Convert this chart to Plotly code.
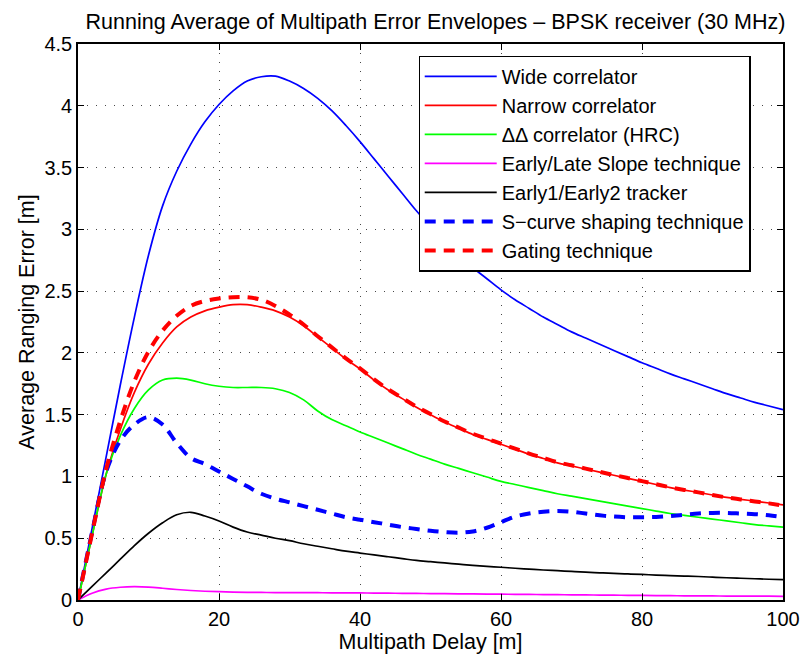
import plotly.graph_objects as go

# Multipath delay grid [m], 2 m steps
delay = list(range(0, 101, 2))

wide = [0, 0.58, 1.16, 1.74, 2.29, 2.79, 3.19, 3.47, 3.69, 3.87,
        4.01, 4.12, 4.20, 4.235, 4.24, 4.20, 4.14, 4.06, 3.96, 3.84,
        3.71, 3.57, 3.43, 3.29, 3.15, 3.02, 2.90, 2.79, 2.69, 2.60,
        2.51, 2.43, 2.36, 2.29, 2.23, 2.17, 2.12, 2.07, 2.02, 1.97,
        1.92, 1.875, 1.83, 1.79, 1.75, 1.71, 1.67, 1.635, 1.60, 1.57, 1.54]

narrow = [0, 0.52, 1.02, 1.38, 1.68, 1.91, 2.08, 2.21, 2.29, 2.34,
          2.37, 2.39, 2.39, 2.37, 2.34, 2.29, 2.22, 2.13, 2.04, 1.95,
          1.87, 1.78, 1.70, 1.63, 1.56, 1.50, 1.44, 1.39, 1.34, 1.30,
          1.26, 1.22, 1.18, 1.145, 1.11, 1.085, 1.06, 1.035, 1.01, 0.985,
          0.96, 0.935, 0.91, 0.89, 0.87, 0.85, 0.83, 0.815, 0.80, 0.785, 0.77]

hrc = [0, 0.52, 1.02, 1.33, 1.55, 1.70, 1.78, 1.795, 1.78, 1.75,
       1.73, 1.72, 1.72, 1.72, 1.71, 1.68, 1.62, 1.53, 1.46, 1.41,
       1.36, 1.315, 1.27, 1.225, 1.18, 1.14, 1.10, 1.065, 1.03, 0.995,
       0.96, 0.935, 0.91, 0.885, 0.86, 0.84, 0.82, 0.80, 0.78, 0.76,
       0.74, 0.72, 0.70, 0.685, 0.67, 0.655, 0.64, 0.625, 0.61, 0.60, 0.59]

els = [0, 0.055, 0.088, 0.103, 0.108, 0.104, 0.095, 0.085, 0.077, 0.071,
       0.067, 0.064, 0.062, 0.061, 0.06, 0.06, 0.06, 0.059, 0.058, 0.058,
       0.057, 0.056, 0.055, 0.054, 0.053, 0.052, 0.051, 0.05, 0.049, 0.048,
       0.047, 0.046, 0.045, 0.044, 0.043, 0.042, 0.041, 0.040, 0.039, 0.038,
       0.037, 0.036, 0.035, 0.034, 0.033, 0.033, 0.032, 0.032, 0.031, 0.031, 0.03]

e1e2 = [0, 0.11, 0.22, 0.33, 0.44, 0.54, 0.625, 0.69, 0.71, 0.68,
        0.64, 0.59, 0.55, 0.525, 0.50, 0.48, 0.455, 0.435, 0.415, 0.395,
        0.38, 0.365, 0.35, 0.335, 0.32, 0.31, 0.30, 0.29, 0.28, 0.272,
        0.265, 0.257, 0.25, 0.243, 0.237, 0.231, 0.225, 0.22, 0.215, 0.211,
        0.207, 0.202, 0.198, 0.194, 0.19, 0.185, 0.18, 0.176, 0.172, 0.168, 0.165]

scurve = [0, 0.55, 1.04, 1.29, 1.42, 1.48, 1.42, 1.27, 1.15, 1.10,
          1.04, 0.98, 0.92, 0.86, 0.82, 0.79, 0.76, 0.73, 0.70, 0.67,
          0.65, 0.63, 0.61, 0.59, 0.575, 0.56, 0.55, 0.545, 0.555, 0.585,
          0.63, 0.675, 0.70, 0.715, 0.72, 0.715, 0.70, 0.685, 0.675, 0.67,
          0.67, 0.672, 0.68, 0.69, 0.70, 0.705, 0.705, 0.70, 0.695, 0.685, 0.67]

gating = [0, 0.54, 1.06, 1.45, 1.77, 2.01, 2.18, 2.30, 2.38, 2.42,
          2.44, 2.45, 2.45, 2.43, 2.38, 2.31, 2.23, 2.135, 2.045, 1.955,
          1.875, 1.785, 1.705, 1.635, 1.565, 1.505, 1.445, 1.395, 1.345, 1.305,
          1.265, 1.225, 1.185, 1.15, 1.115, 1.09, 1.063, 1.037, 1.012, 0.987,
          0.962, 0.937, 0.912, 0.891, 0.871, 0.85, 0.83, 0.814, 0.798, 0.782, 0.765]

x_ticks = [0, 20, 40, 60, 80, 100]
y_ticks = [0, 0.5, 1, 1.5, 2, 2.5, 3, 3.5, 4, 4.5]

series = [
    ("Wide correlator", wide, "#0000ff", "solid", 1.7),
    ("Narrow correlator", narrow, "#ff0000", "solid", 1.7),
    ("\u0394\u0394 correlator (HRC)", hrc, "#00ff00", "solid", 1.7),
    ("Early/Late Slope technique", els, "#ff00ff", "solid", 1.7),
    ("Early1/Early2 tracker", e1e2, "#000000", "solid", 1.7),
    ("S\u2212curve shaping technique", scurve, "#0000ff", "11px,8px", 4),
    ("Gating technique", gating, "#ff0000", "11px,8px", 4),
]

fig = go.Figure()
for name, vals, color, dash, width in series:
    fig.add_trace(go.Scatter(
        x=delay, y=vals, name=name, mode="lines",
        line=dict(color=color, dash=dash, width=width, shape="spline", smoothing=1.0),
    ))

font_family = "Liberation Sans, Arial, Helvetica, sans-serif"

axis_common = dict(
    showline=True, linecolor="black", linewidth=1.6, mirror="ticks",
    ticks="inside", ticklen=6, tickcolor="black", tickwidth=1,
    showgrid=True, gridcolor="rgba(40,40,40,0.85)", griddash="1px,8px", gridwidth=1.2,
    zeroline=False, tickfont=dict(size=20, color="black"), automargin=False,
)

fig.update_layout(
    width=802, height=659,
    margin=dict(l=78, r=19, t=44, b=59),
    paper_bgcolor="white", plot_bgcolor="white",
    font=dict(family=font_family, color="black"),
    title=dict(
        text="Running Average of Multipath Error Envelopes \u2013 BPSK receiver (30 MHz)",
        x=0.543, xanchor="center", y=0.968, yanchor="middle",
        font=dict(size=21.5, color="black"),
    ),
    xaxis=dict(range=[0, 100], tickvals=x_ticks,
               title=dict(text="Multipath Delay [m]", font=dict(size=21.5), standoff=2),
               **axis_common),
    yaxis=dict(range=[0, 4.5], tickvals=y_ticks, ticktext=[f"{v:g}" for v in y_ticks],
               title=dict(text="Average Ranging Error [m]", font=dict(size=21.5), standoff=4),
               **axis_common),
    legend=dict(
        x=0.483, y=0.979, xanchor="left", yanchor="top",
        bgcolor="white", bordercolor="black", borderwidth=1.2,
        font=dict(size=20, color="black"), itemwidth=72,
    ),
    showlegend=True,
)

fig.write_html("out.html")
